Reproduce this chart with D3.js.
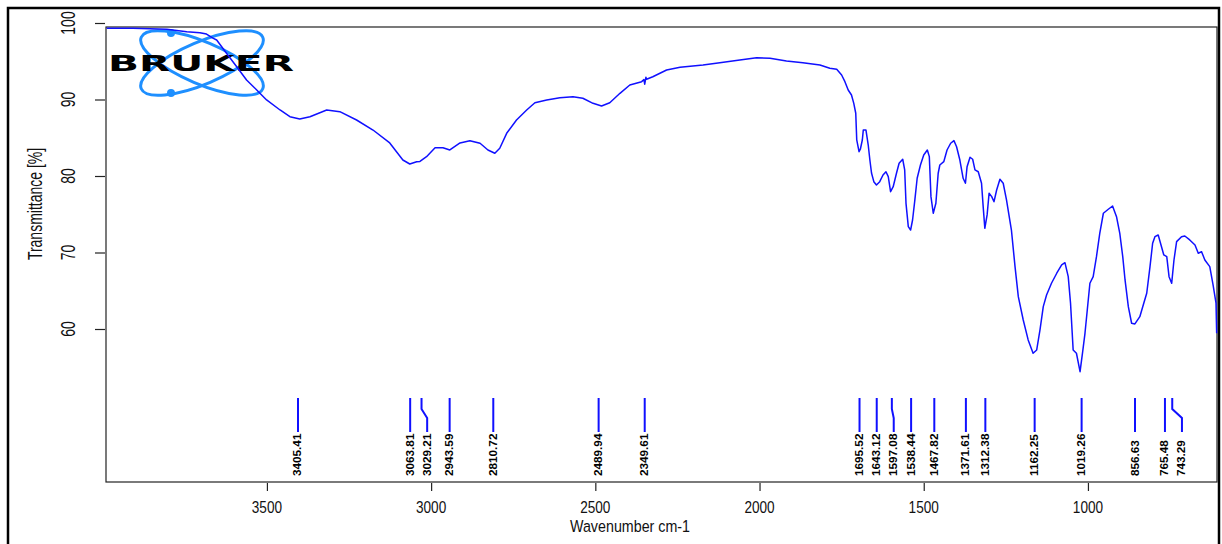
<!DOCTYPE html>
<html>
<head>
<meta charset="utf-8">
<script src="https://cdn.jsdelivr.net/npm/d3@7"></script>
<style>
  html, body { margin: 0; padding: 0; background: #fff; }
  svg { display: block; }
</style>
</head>
<body>
<div id="chart"></div>
<script>
// スペクトルのデータ (波数 cm-1)
const wavenumbers = [
  3988, 3908, 3805, 3744, 3704, 3684, 3663, 3653, 3623, 3592, 3562, 3531, 3501, 3460, 3430, 3400,
  3369, 3318, 3278, 3227, 3177, 3126, 3086, 3065, 3044, 3034, 3014, 2988, 2964, 2943, 2912, 2882,
  2851, 2827, 2806, 2791, 2770, 2740, 2709, 2684, 2648, 2608, 2568, 2538, 2507, 2481, 2456, 2425,
  2395, 2359, 2352, 2349.6, 2346, 2344, 2325, 2283, 2242, 2172, 2121, 2060, 2009, 1968, 1918, 1868,
  1816, 1786, 1765, 1750, 1740, 1730, 1720, 1713, 1707, 1704, 1697, 1693, 1687, 1684, 1676, 1669,
  1664, 1659, 1652, 1644, 1634, 1624, 1615, 1608, 1601, 1593, 1583, 1575, 1564, 1558, 1554, 1547,
  1540, 1534, 1527, 1520, 1510, 1500, 1489, 1483, 1478, 1471, 1463, 1456, 1451, 1439, 1429, 1418,
  1408, 1400, 1390, 1380, 1373, 1368, 1359, 1351, 1344, 1334, 1324, 1319, 1314, 1307, 1301, 1293,
  1286, 1278, 1268, 1258, 1248, 1233, 1222, 1212, 1197, 1182, 1167, 1156, 1146, 1136, 1126, 1111,
  1095, 1080, 1070, 1060, 1053, 1045, 1035, 1024, 1016, 1009, 1002, 994, 984, 974, 964, 953,
  938, 925, 913, 903, 894, 887, 877, 867, 857, 842, 830, 821, 811, 803, 796, 786,
  776, 769, 760, 753, 745, 738, 730, 715, 705, 690, 674, 664, 654, 644, 629, 619,
  610, 608
];
// 透過率 [%]
const transmittance = [
  99.31, 99.31, 99.18, 98.86, 98.73, 98.56, 98.00, 97.78, 96.04, 94.29, 92.55, 91.24, 89.94, 88.63, 87.75, 87.45,
  87.75, 88.63, 88.41, 87.32, 86.01, 84.32, 82.09, 81.57, 81.87, 81.90, 82.53, 83.70, 83.70, 83.40, 84.32, 84.62,
  84.28, 83.40, 82.97, 83.62, 85.58, 87.32, 88.63, 89.58, 89.94, 90.24, 90.37, 90.16, 89.50, 89.15, 89.58, 90.81,
  91.90, 92.33, 92.60, 92.00, 92.90, 92.64, 92.98, 93.86, 94.21, 94.51, 94.81, 95.16, 95.46, 95.39, 95.03, 94.81,
  94.51, 94.08, 93.95, 93.20, 92.33, 91.24, 90.59, 89.50, 88.20, 84.71, 83.18, 83.50, 84.71, 86.02, 86.02, 84.05,
  82.09, 80.39, 79.26, 78.83, 79.26, 80.13, 80.56, 79.91, 77.95, 78.60, 80.36, 81.66, 82.19, 80.79, 76.43, 73.38,
  72.94, 74.25, 76.87, 79.70, 81.44, 82.75, 83.40, 82.53, 77.30, 75.13, 76.43, 80.36, 81.44, 81.87, 83.40, 84.28,
  84.62, 83.83, 82.09, 79.70, 79.05, 81.22, 82.45, 82.19, 80.79, 80.56, 79.05, 75.99, 73.17, 74.91, 77.74, 77.30,
  76.64, 78.17, 79.57, 79.05, 76.87, 72.94, 68.15, 64.23, 61.18, 58.57, 56.83, 57.26, 59.88, 62.92, 64.45, 65.98,
  67.29, 68.37, 68.67, 66.84, 63.37, 57.26, 56.83, 54.42, 57.04, 59.44, 62.49, 65.98, 66.84, 69.46, 72.51, 75.13,
  75.65, 76.08, 74.68, 72.51, 69.46, 66.41, 62.92, 60.75, 60.66, 61.61, 63.37, 64.67, 68.15, 71.21, 72.07, 72.29,
  70.76, 69.68, 69.46, 66.84, 65.98, 69.02, 71.42, 72.07, 72.16, 71.64, 70.98, 69.90, 70.11, 69.02, 68.15, 65.76,
  63.37, 59.44
];

// ピークの位置
const peakWavenumbers = [
  3405.41, 3063.81, 3029.21, 2943.59, 2810.72, 2489.94, 2349.61,
  1695.52, 1643.12, 1597.08, 1538.44, 1467.82, 1371.61, 1312.38,
  1162.25, 1019.26, 856.63, 765.48, 743.29
];

// 目盛り
const xTicks = [3500, 3000, 2500, 2000, 1500, 1000];
const yTicks = [60, 70, 80, 90, 100];

function drawChart() {
    const width = 1222;
    const height = 544;
    const plot = { left: 106, right: 1217, top: 27, bottom: 482 };
    const font = '"Liberation Sans", Arial, sans-serif';

    const svg = d3.select('#chart').append('svg')
        .attr('width', width)
        .attr('height', height);

    // スケール
    const x = d3.scaleLinear().domain([3990, 607]).range([plot.left, plot.right]);
    const y = d3.scaleLinear().domain([40, 100]).range([plot.bottom, 23]);

    // 外枠
    svg.append('rect')
        .attr('x', 8).attr('y', 8)
        .attr('width', 1211).attr('height', 560)
        .attr('fill', 'none')
        .attr('stroke', '#000')
        .attr('stroke-width', 2.5);

    // プロット枠
    svg.append('rect')
        .attr('x', plot.left).attr('y', plot.top)
        .attr('width', plot.right - plot.left)
        .attr('height', plot.bottom - plot.top)
        .attr('fill', 'none')
        .attr('stroke', '#222')
        .attr('stroke-width', 1.2);

    // Y軸の目盛り
    const yAxis = svg.append('g')
        .attr('transform', `translate(${plot.left - 1},0)`)
        .call(d3.axisLeft(y).tickValues(yTicks).tickSize(10).tickFormat(''));
    yAxis.select('.domain').remove();
    yAxis.selectAll('line').attr('stroke', '#222').attr('stroke-width', 1.2);

    svg.append('g').selectAll('text')
        .data(yTicks)
        .enter()
        .append('text')
        .attr('transform', d => `translate(75,${y(d)}) scale(1.5,1) rotate(-90)`)
        .attr('text-anchor', 'middle')
        .style('font-family', font)
        .style('font-size', '14px')
        .attr('fill', '#111')
        .text(d => d);

    // X軸の目盛り
    const xAxis = svg.append('g')
        .attr('transform', `translate(0,${plot.bottom + 1})`)
        .call(d3.axisBottom(x).tickValues(xTicks).tickSize(8).tickFormat(''));
    xAxis.select('.domain').remove();
    xAxis.selectAll('line').attr('stroke', '#222').attr('stroke-width', 1.2);

    svg.append('g').selectAll('text')
        .data(xTicks)
        .enter()
        .append('text')
        .attr('transform', d => `translate(${x(d)},513) scale(0.8,1)`)
        .attr('text-anchor', 'middle')
        .style('font-family', font)
        .style('font-size', '17px')
        .attr('fill', '#111')
        .text(d => d);

    // 軸ラベル
    svg.append('text')
        .attr('transform', 'translate(630,532) scale(0.84,1)')
        .attr('text-anchor', 'middle')
        .style('font-family', font)
        .style('font-size', '17px')
        .attr('fill', '#111')
        .text('Wavenumber cm-1');

    svg.append('text')
        .attr('transform', 'translate(42,204) scale(1.5,1) rotate(-90)')
        .attr('text-anchor', 'middle')
        .style('font-family', font)
        .style('font-size', '14px')
        .attr('fill', '#111')
        .text('Transmittance [%]');

    // BRUKER ロゴ
    const logo = svg.append('g').attr('transform', 'translate(202,63)');
    [-23, 23].forEach(angle => {
        logo.append('ellipse')
            .attr('rx', 66).attr('ry', 21)
            .attr('transform', `rotate(${angle})`)
            .attr('fill', 'none')
            .attr('stroke', '#1e8fff')
            .attr('stroke-width', 3);
    });
    [-30, 30].forEach(dy => {
        logo.append('circle')
            .attr('cx', -31).attr('cy', dy)
            .attr('r', 4)
            .attr('fill', '#1e8fff');
    });
    logo.append('text')
        .attr('x', -94).attr('y', 8)
        .attr('textLength', 186)
        .attr('lengthAdjust', 'spacingAndGlyphs')
        .style('font-family', '"DejaVu Sans", Arial, sans-serif')
        .style('font-size', '21px')
        .style('font-weight', 'bold')
        .attr('fill', '#000')
        .text('BRUKER');

    // スペクトル曲線
    const spectrum = wavenumbers.map((w, i) => ({ w: w, t: transmittance[i] }));
    const line = d3.line().x(d => x(d.w)).y(d => y(d.t));
    svg.append('path')
        .datum(spectrum)
        .attr('d', line)
        .attr('fill', 'none')
        .attr('stroke', '#1010ff')
        .attr('stroke-width', 1.5)
        .attr('stroke-linejoin', 'round');

    // ピークのマーカーとラベル (重なる場合は右へずらす)
    const minGap = 17;
    let lastX = -Infinity;
    const peaks = peakWavenumbers.map(w => {
        const px = x(w);
        let lx = Math.max(px, lastX + minGap);
        if (lx - px < 1.5) lx = px;
        lastX = lx;
        return { w: w, px: px, lx: lx };
    });

    const peakG = svg.append('g');
    peakG.selectAll('path')
        .data(peaks)
        .enter()
        .append('path')
        .attr('d', d => d.lx === d.px
            ? `M${d.px},398V432`
            : `M${d.px},398V409L${d.lx},418V432`)
        .attr('fill', 'none')
        .attr('stroke', '#1010ff')
        .attr('stroke-width', 2);

    peakG.selectAll('text')
        .data(peaks)
        .enter()
        .append('text')
        .attr('transform', d => `translate(${d.lx + 3.5},476) scale(1,1.12) rotate(-90)`)
        .attr('text-anchor', 'start')
        .style('font-family', font)
        .style('font-size', '10.5px')
        .style('font-weight', 'bold')
        .attr('fill', '#000')
        .text(d => d.w.toFixed(2));
}

document.addEventListener('DOMContentLoaded', drawChart);
</script>
</body>
</html>
